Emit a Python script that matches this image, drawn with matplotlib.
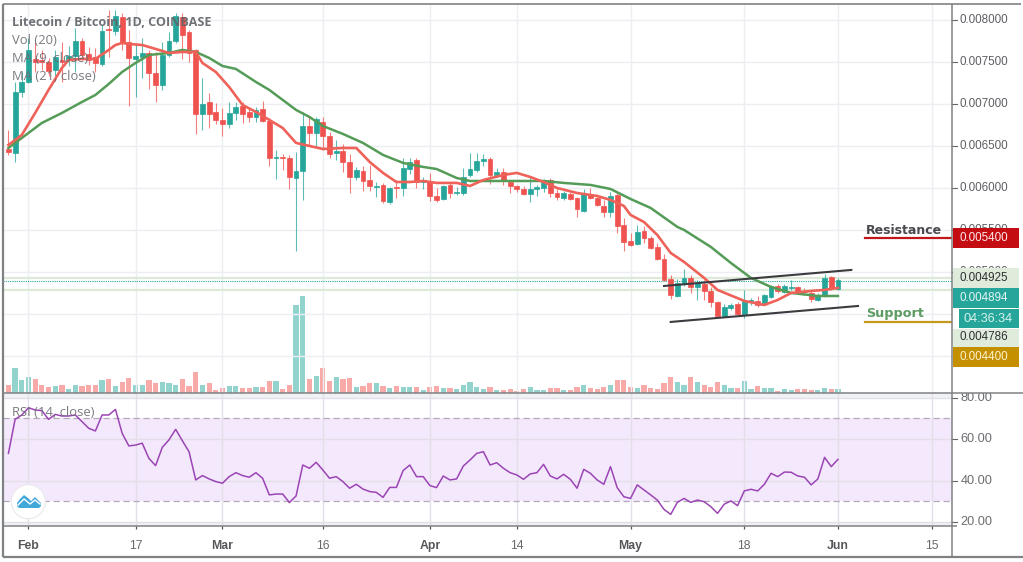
import matplotlib
matplotlib.use("Agg")
import matplotlib.pyplot as plt
import numpy as np
from matplotlib.patches import Circle, Polygon, Rectangle

# all prices below are in millionths of BTC
opens = [6464, 6417, 7143, 7262, 7536, 7524, 7500, 7405, 7524, 7524, 7571, 7750, 7595, 7559, 7476, 7893, 7869, 8036, 7738, 7536,
         7559, 7607, 7369, 7226, 7583, 7750, 8036, 7857, 7643, 6881, 7024, 6905, 6810, 6762, 6893, 6976, 6905, 6845, 6940, 6798,
         6357, 6369, 6357, 6119, 6202, 6738, 6655, 6786, 6619, 6417, 6440, 6309, 6131, 6202, 6095, 6012, 6036, 5833, 6012, 6000,
         6226, 6333, 6071, 6083, 5905, 5869, 6036, 5940, 5940, 6155, 6214, 6321, 6345, 6155, 6190, 6071, 6024, 5988, 5928, 5988,
         6000, 6095, 5940, 5881, 5928, 5881, 5726, 5928, 5881, 5786, 5714, 5917, 5559, 5369, 5333, 5488, 5405, 5298, 5155, 4916,
         4714, 4869, 4928, 4821, 4857, 4774, 4643, 4476, 4571, 4619, 4488, 4643, 4655, 4631, 4702, 4833, 4762, 4809, 4821, 4774,
         4750, 4666, 4714, 4940, 4797]
highs = [6690, 7262, 7381, 7786, 7738, 7643, 7548, 7643, 7738, 7690, 7905, 7786, 7678, 7667, 7940, 8119, 8119, 8083, 7881, 7726,
         7786, 7643, 7619, 7738, 7857, 8083, 8083, 7881, 7655, 7309, 7131, 7012, 6952, 7024, 7024, 7024, 6952, 6964, 7036, 6833,
         6452, 6405, 6393, 6428, 6905, 6845, 6845, 6845, 6667, 6571, 6524, 6405, 6250, 6262, 6274, 6071, 6060, 6012, 6095, 6357,
         6357, 6357, 6131, 6178, 6000, 6036, 6060, 6012, 6238, 6417, 6417, 6405, 6369, 6238, 6238, 6095, 6036, 6024, 6131, 6036,
         6107, 6119, 5988, 5964, 5952, 5893, 5988, 6000, 5917, 5857, 5952, 5940, 5643, 5464, 5559, 5547, 5428, 5345, 5214, 4964,
         4916, 5036, 4964, 4905, 4905, 4821, 4655, 4619, 4631, 4643, 4786, 4690, 4714, 4738, 4845, 4857, 4857, 4905, 4833, 4809,
         4774, 4750, 4976, 4952, 4928]
lows = [6393, 6309, 7083, 7250, 7381, 7405, 7333, 7333, 7262, 7452, 7381, 7524, 7464, 7381, 7452, 7559, 7821, 7643, 6976, 7083,
        7309, 7178, 7024, 7167, 7559, 7726, 7536, 7500, 6643, 6690, 6714, 6762, 6619, 6714, 6810, 6774, 6786, 6786, 6786, 6262,
        6107, 6214, 5988, 5250, 5857, 6512, 6488, 6452, 6357, 6333, 6190, 5940, 6095, 5964, 5964, 5893, 5821, 5809, 5881, 5905,
        6167, 6000, 5988, 5845, 5833, 5857, 5881, 5917, 5917, 6131, 6190, 6262, 6047, 6131, 6036, 5940, 5952, 5917, 5833, 5905,
        5952, 5893, 5857, 5857, 5857, 5655, 5714, 5869, 5786, 5655, 5655, 5464, 5250, 5309, 5321, 5345, 5274, 5143, 4893, 4678,
        4702, 4833, 4750, 4666, 4666, 4583, 4464, 4464, 4547, 4488, 4452, 4607, 4583, 4631, 4690, 4750, 4750, 4786, 4750, 4726,
        4643, 4655, 4702, 4786, 4786]
closes = [6428, 7143, 7262, 7643, 7500, 7500, 7393, 7559, 7500, 7571, 7750, 7583, 7524, 7488, 7869, 7881, 8048, 7726, 7548, 7571,
          7607, 7369, 7226, 7583, 7750, 8048, 7821, 7607, 6881, 7000, 6881, 6810, 6762, 6893, 6964, 6881, 6845, 6929, 6798, 6357,
          6369, 6357, 6131, 6202, 6738, 6655, 6821, 6619, 6405, 6440, 6309, 6131, 6214, 6083, 6024, 6024, 5845, 6000, 6000, 6238,
          6309, 6071, 6095, 5905, 5857, 6024, 5940, 5952, 6131, 6226, 6321, 6345, 6155, 6190, 6083, 6024, 5988, 5928, 5988, 6012,
          6083, 5940, 5893, 5940, 5869, 5750, 5928, 5881, 5797, 5714, 5905, 5547, 5357, 5321, 5476, 5405, 5286, 5155, 4905, 4726,
          4869, 4928, 4821, 4869, 4774, 4643, 4476, 4583, 4607, 4500, 4655, 4667, 4607, 4726, 4833, 4774, 4833, 4821, 4774, 4762,
          4678, 4726, 4928, 4809, 4905]
volumes = [25, 74, 38, 48, 42, 25, 17, 22, 25, 13, 25, 20, 25, 25, 38, 42, 22, 32, 45, 25,
           25, 38, 30, 32, 30, 25, 42, 22, 64, 25, 29, 10, 16, 22, 20, 16, 16, 19, 19, 35,
           35, 13, 25, 264, 291, 42, 52, 74, 35, 48, 42, 45, 17, 22, 29, 29, 22, 16, 22, 19,
           19, 19, 9, 19, 22, 16, 16, 12, 25, 32, 19, 13, 19, 10, 10, 12, 7, 13, 19, 10,
           10, 16, 16, 9, 10, 19, 23, 16, 13, 19, 23, 38, 38, 19, 16, 25, 16, 13, 29, 48,
           32, 23, 48, 32, 25, 19, 32, 25, 16, 16, 35, 13, 22, 16, 16, 6, 13, 9, 13, 13,
           10, 9, 16, 13, 13]
rsi = [53.1, 69.5, 71.6, 75.1, 74.0, 73.7, 69.5, 71.9, 71.1, 71.1, 71.6, 68.4, 65.2, 63.9, 71.6, 71.6, 74.3, 62.8, 56.7, 57.1,
       58.0, 50.7, 47.2, 56.0, 59.6, 64.7, 59.2, 53.9, 40.3, 42.4, 40.8, 39.5, 38.7, 41.9, 43.8, 42.4, 41.6, 43.8, 41.1, 33.1,
       33.5, 33.5, 29.4, 32.6, 47.5, 45.9, 48.8, 45.1, 41.1, 41.9, 39.5, 36.3, 38.2, 35.9, 34.7, 34.3, 31.9, 36.7, 36.7, 44.8,
       47.5, 41.9, 41.9, 37.6, 36.6, 42.2, 40.3, 40.8, 47.0, 49.9, 53.1, 53.9, 47.5, 48.6, 45.9, 43.8, 42.7, 40.6, 43.2, 43.8,
       47.8, 42.2, 40.8, 43.0, 40.6, 36.3, 45.4, 43.5, 40.3, 38.2, 46.7, 36.6, 32.2, 31.4, 37.9, 35.5, 33.1, 30.6, 26.1, 23.7,
       29.5, 31.4, 29.5, 30.6, 29.8, 27.4, 24.2, 28.6, 30.2, 27.9, 35.0, 35.8, 35.0, 38.2, 43.5, 41.9, 44.1, 44.0, 42.2, 41.6,
       37.9, 40.8, 51.2, 46.7, 50.2]

# moving averages at these candles
ma9_days = [0, 1, 2, 4, 6, 8, 9, 11, 13, 15, 16, 17, 18, 20, 22, 24, 26, 28, 29, 31, 33, 35, 37, 39, 41, 43, 45, 47, 50, 52,
            54, 56, 58, 60, 62, 64, 67, 69, 71, 74, 76, 78, 80, 82, 85, 88, 90, 92, 93, 95, 97, 99, 101, 104, 106, 110, 113,
            115, 117, 120, 122, 124]
ma9 = [6512, 6571, 6631, 6893, 7167, 7429, 7524, 7536, 7536, 7643, 7702, 7726, 7714, 7702, 7655, 7607, 7619, 7619, 7488, 7381,
       7202, 6988, 6905, 6810, 6714, 6536, 6500, 6464, 6476, 6476, 6310, 6179, 6071, 6071, 6083, 6060, 6060, 6024, 6095, 6155,
       6179, 6131, 6071, 6000, 5940, 5905, 5857, 5786, 5679, 5595, 5440, 5226, 5119, 4929, 4786, 4655, 4607, 4667, 4750, 4774,
       4786, 4810]
ma21_days = [0, 2, 5, 8, 11, 13, 15, 17, 19, 21, 24, 26, 28, 30, 32, 34, 37, 39, 41, 43, 45, 47, 50, 53, 56, 59, 62, 64, 67,
             69, 77, 80, 83, 87, 90, 93, 96, 100, 101, 105, 108, 111, 114, 117, 121, 124]
ma21 = [6476, 6595, 6774, 6893, 7024, 7107, 7238, 7381, 7488, 7583, 7607, 7643, 7619, 7548, 7452, 7417, 7262, 7167, 7048, 6929,
        6845, 6738, 6643, 6536, 6393, 6298, 6250, 6226, 6119, 6083, 6083, 6083, 6060, 6036, 5988, 5869, 5762, 5536, 5500, 5298,
        5107, 4929, 4821, 4750, 4714, 4714]

upper_channel = ([98, 126], [4833, 5024])
lower_channel = ([99, 127], [4405, 4595])
resistance = 5400
support = 4400
band_top = 4925
band_bottom = 4786
last_price = 4894

tick_days = [3, 19, 32, 47, 63, 76, 93, 110, 124, 138]
tick_labels = ["Feb", "17", "Mar", "16", "Apr", "14", "May", "18", "Jun", "15"]
month_labels = ["Feb", "Mar", "Apr", "May", "Jun"]
price_ticks = [8000, 7500, 7000, 6500, 6000, 5500, 5000]
price_labels = ["0.008000", "0.007500", "0.007000", "0.006500", "0.006000", "0.005500", "0.005000"]
price_grid = [8000, 7500, 7000, 6500, 6000, 5500, 5000, 4500, 4000]
rsi_ticks = [80, 60, 40, 20]
rsi_labels = ["80.00", "60.00", "40.00", "20.00"]

RED = "#ef5350"
TEAL = "#26a69a"
GRID = "#eceef3"
CHROME = "#7f8183"
W, H = 1023, 562


def box(left, top, right, bottom):
    return [left / W, 1 - bottom / H, (right - left) / W, (bottom - top) / H]


def to_price(values):
    return np.array(values) * 1e-6


fig = plt.figure(figsize=(W / 100, H / 100), dpi=100)
plt.rcParams["font.family"] = ["Liberation Sans", "DejaVu Sans"]

days = np.arange(len(closes))
xlim = (-0.81, 141.05)
price_lim = (0.003559, 0.008190)
rsi_lim = (18.1, 82.2)

vol_ax = fig.add_axes(box(3, 4, 952, 393), zorder=1)
ax = fig.add_axes(box(3, 4, 952, 393), zorder=2)
rsi_ax = fig.add_axes(box(3, 393, 952, 526), zorder=2)
price_scale = fig.add_axes(box(952, 4, 1023, 393), zorder=2)
rsi_scale = fig.add_axes(box(952, 393, 1023, 526), zorder=2)
ov = fig.add_axes([0, 0, 1, 1], zorder=5)
ov.set_xlim(0, W)
ov.set_ylim(H, 0)
ov.axis("off")
ov.patch.set_alpha(0)

is_up = np.array(closes) >= np.array(opens)
colors = np.where(is_up, TEAL, RED)

# volume and grid sit under the candles
vol_ax.set_xlim(xlim)
vol_ax.set_ylim(0, 1167)
vol_colors = np.where(is_up, "#93d3cd", "#f7aaa8")
vol_ax.bar(days, volumes, width=0.78, color=vol_colors)
vol_ax.axis("off")

ax.patch.set_alpha(0)
ax.set_xlim(xlim)
ax.set_ylim(price_lim)
ax.set_xticks(tick_days)
ax.set_yticks(to_price(price_grid))
ax.grid(True, color=GRID, lw=1)
ax.set_axisbelow(True)
ax.tick_params(length=0, labelbottom=False, labelleft=False)
for s in ax.spines.values():
    s.set_visible(False)

ax.axhline(band_top * 1e-6, color="#dcebd8", lw=1.6, zorder=1)
ax.axhline(band_bottom * 1e-6, color="#dcebd8", lw=1.6, zorder=1)
ax.axhline(last_price * 1e-6, color=TEAL, lw=0.8, ls=(0, (1, 1)), zorder=1.5)

# candles
ax.vlines(days, to_price(lows), to_price(highs), colors=colors, lw=0.8, alpha=0.75, zorder=2)
bottoms = to_price(np.minimum(opens, closes))
heights = to_price(np.abs(np.array(closes) - np.array(opens)))
ax.bar(days, heights, bottom=bottoms, width=0.72, color=colors, edgecolor=colors, lw=0.5, zorder=3)

ax.plot(ma21_days, to_price(ma21), color="#559c58", lw=1.8, zorder=4, solid_joinstyle="round")
ax.plot(ma9_days, to_price(ma9), color="#ee6259", lw=1.9, zorder=5, solid_joinstyle="round")

ax.plot(upper_channel[0], to_price(upper_channel[1]), color="#3c3c40", lw=1.5, zorder=6)
ax.plot(lower_channel[0], to_price(lower_channel[1]), color="#3c3c40", lw=1.5, zorder=6)
ax.plot([128.1, 141.05], to_price([resistance, resistance]), color="#c0171d", lw=1.6, zorder=6)
ax.plot([128.1, 141.05], to_price([support, support]), color="#c49a1c", lw=1.6, zorder=6)

ax.text(128.2, 5490e-6, "Resistance", family="DejaVu Sans", weight="bold", fontsize=9, color="#4a4a4e", va="center")
ax.text(128.2, 4505e-6, "Support", family="DejaVu Sans", weight="bold", fontsize=9.2, color="#5c9c62", va="center")

# legend texts, on top of the candles like in the platform
legend_rows = [("Litecoin / Bitcoin, 1D, COINBASE", 23, "bold", 9.1, "#5f6368"),
               ("Vol (20)", 41, "normal", 9.4, "#6a6d72"),
               ("MA (9, close)", 59, "normal", 9.4, "#6a6d72"),
               ("MA (21, close)", 77, "normal", 9.4, "#6a6d72")]
for text, y, weight, size, col in legend_rows:
    ov.text(12.5, y, text, family="Open Sans", fontsize=size, weight=weight, color=col, va="center", alpha=0.9)
ov.text(12.5, 412, "RSI (14, close)", family="Open Sans", fontsize=9.4, color="#6a6d72", va="center", alpha=0.9)

# RSI pane
rsi_ax.set_xlim(xlim)
rsi_ax.set_ylim(rsi_lim)
rsi_ax.axhspan(30, 70, color="#f4e8fd", lw=0, zorder=0)
rsi_ax.axhspan(80, 82.2, color="#f0f2f5", lw=0, zorder=0)
rsi_ax.axhspan(18.1, 20, color="#f0f2f5", lw=0, zorder=0)
rsi_ax.axhline(70, color="#b3a9b8", lw=0.9, ls=(0, (5, 3)), zorder=1)
rsi_ax.axhline(30, color="#b3a9b8", lw=0.9, ls=(0, (5, 3)), zorder=1)
rsi_ax.set_yticks([20, 40, 60, 80])
rsi_ax.grid(True, color="#e2dfe8", lw=1)
rsi_ax.set_axisbelow(True)
rsi_ax.plot(days, rsi, color="#9b45b4", lw=1.1, zorder=3)
rsi_ax.set_xticks(tick_days, tick_labels)
rsi_ax.tick_params(axis="y", length=0, labelleft=False)
rsi_ax.tick_params(axis="x", length=2.5, width=0.9, color="#555555", pad=7.5, labelsize=8.8, labelcolor="#67696d")
for label in rsi_ax.get_xticklabels():
    if label.get_text() in month_labels:
        label.set_fontweight("bold")
        label.set_color("#55575a")
for s in rsi_ax.spines.values():
    s.set_visible(False)

# right hand scales
price_scale.set_xlim(0, 71)
price_scale.set_ylim(price_lim)
price_scale.axis("off")
for val, lab in zip(price_ticks, price_labels):
    price_scale.text(8, val * 1e-6, lab, fontsize=8.4, color="#5d5f63", va="center", clip_on=True)
    price_scale.plot([0, 5], [val * 1e-6] * 2, color="#666666", lw=0.8)
rsi_scale.set_xlim(0, 71)
rsi_scale.set_ylim(rsi_lim)
rsi_scale.axis("off")
for val, lab in zip(rsi_ticks, rsi_labels):
    rsi_scale.text(8.5, val, lab, fontsize=9.2, color="#6a6c70", va="center", clip_on=True)
    rsi_scale.plot([0, 5], [val] * 2, color="#666666", lw=0.8)

# price labels in boxes
label_boxes = [(953, 228, 1019, 248, "#c40d12", "0.005400", "#ffe9e9"),
               (953, 268, 1019, 288, "#dfecdb", "0.004925", "#2e3033"),
               (953, 288, 1019, 308, TEAL, "0.004894", "#e4f5f2"),
               (953, 328, 1019, 347, "#dfecdb", "0.004786", "#2e3033"),
               (953, 347, 1019, 367, "#c49000", "0.004400", "#fdf3d0")]
for left, top, right, bottom, face, text, col in label_boxes:
    ov.add_patch(Rectangle((left, top), right - left, bottom - top, color=face, lw=0))
    ov.text(960, (top + bottom) / 2, text, fontsize=8.4, color=col, va="center")
ov.add_patch(Rectangle((952, 308), 71, 21, color="white", lw=0))
ov.add_patch(Rectangle((959, 309), 60, 19, color=TEAL, lw=0))
ov.text(963, 318.5, "04:36:34", fontsize=9.2, color="#d7f2ee", va="center")

# frame of the panes
for x0, y0, x1, y1, lw in [(3, 4, 1021, 4, 1.2), (3, 4, 3, 557, 1.6), (3, 557, 1023, 557, 1.6),
                           (952, 4, 952, 557, 1.1), (3, 393, 1023, 393, 1.1), (3, 526, 957, 526, 1.1)]:
    ov.plot([x0, x1], [y0, y1], color=CHROME, lw=lw, solid_capstyle="butt")

# platform logo
ov.add_patch(Circle((28.3, 501.7), 17, facecolor="white", edgecolor="#e9e9ec", lw=0.8))
cloud = [(17, 503), (20, 499), (24, 495), (28, 498), (31, 501), (35, 497), (38, 500), (41, 503), (41, 506), (39, 508),
         (19, 508), (17, 506)]
ov.add_patch(Polygon(cloud, closed=True, facecolor="#41a8d9", edgecolor="none"))
ov.plot([18, 24, 30, 35, 40], [505, 499, 504, 500, 504], color="white", lw=1)

fig.savefig("out.png", dpi=100)
